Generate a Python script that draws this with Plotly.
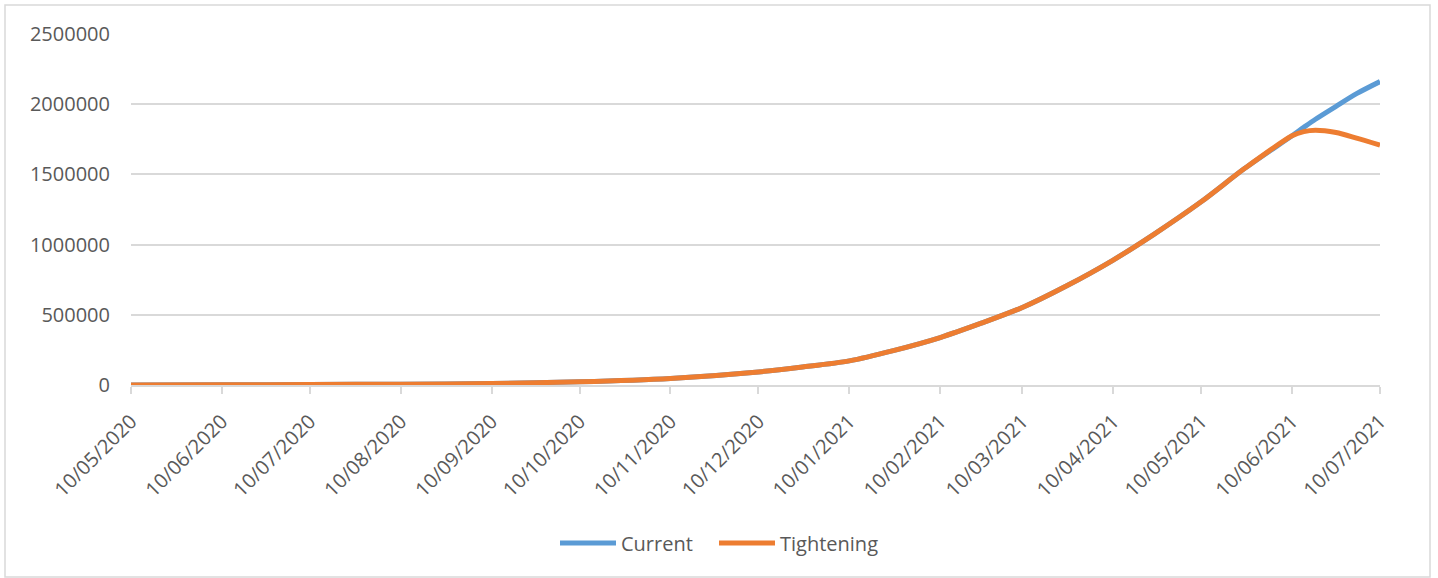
import plotly.graph_objects as go

dates = ["2020-05-10", "2020-06-10", "2020-07-10", "2020-08-10", "2020-09-10",
         "2020-10-10", "2020-11-10", "2020-12-10", "2020-12-25", "2021-01-10",
         "2021-01-25", "2021-02-10", "2021-02-24", "2021-03-10", "2021-03-25",
         "2021-04-10", "2021-04-24", "2021-05-10", "2021-05-25", "2021-06-10",
         "2021-06-14", "2021-06-18", "2021-06-25", "2021-07-02", "2021-07-10"]

current = [500, 1500, 3500, 6000, 11000,
           23000, 47000, 93000, 128000, 172000,
           245000, 338000, 440000, 552000, 705000,
           890000, 1075000, 1305000, 1545000, 1775000,
           1835000, 1893000, 1985000, 2075000, 2161000]

tightening = [500, 1500, 3500, 6000, 11000,
              23000, 47000, 93000, 128000, 172000,
              245000, 338000, 440000, 552000, 705000,
              890000, 1075000, 1305000, 1545000, 1775000,
              1805000, 1815000, 1798000, 1758000, 1708000]

tick_dates = ["2020-05-10", "2020-06-10", "2020-07-10", "2020-08-10", "2020-09-10",
              "2020-10-10", "2020-11-10", "2020-12-10", "2021-01-10", "2021-02-10",
              "2021-03-10", "2021-04-10", "2021-05-10", "2021-06-10", "2021-07-10"]
tick_labels = ["10/05/2020", "10/06/2020", "10/07/2020", "10/08/2020", "10/09/2020",
               "10/10/2020", "10/11/2020", "10/12/2020", "10/01/2021", "10/02/2021",
               "10/03/2021", "10/04/2021", "10/05/2021", "10/06/2021", "10/07/2021"]

y_ticks = [0, 500000, 1000000, 1500000, 2000000, 2500000]

FONT = "Open Sans"
TXT = "#595959"
GRID = "#d9d9d9"

fig = go.Figure()
fig.add_trace(go.Scatter(x=dates, y=current, name="Current", mode="lines", legend="legend",
                         line=dict(color="#5B9BD5", width=5, shape="spline", smoothing=0.8)))
fig.add_trace(go.Scatter(x=dates, y=tightening, name="Tightening", mode="lines", legend="legend2",
                         line=dict(color="#ED7D31", width=5, shape="spline", smoothing=0.8)))

L, R, T, B = 131, 1380, 34, 385
W, H = 1438, 578

def px(x):
    return (x - L) / (R - L)

def py(y):
    return (B - y) / (B - T)

leg_common = dict(orientation="h", y=py(543), xanchor="left", yanchor="middle",
                  font=dict(family=FONT, size=20, color=TXT), itemwidth=56,
                  bgcolor="rgba(0,0,0,0)")

fig.update_layout(
    width=W, height=H,
    margin=dict(l=L, r=W - R, t=T, b=H - B),
    paper_bgcolor="white", plot_bgcolor="white",
    font=dict(family=FONT, size=20, color=TXT),
    showlegend=True,
    legend=dict(x=px(555), **leg_common),
    legend2=dict(x=px(714), **leg_common),
    xaxis=dict(type="date", range=["2020-05-10", "2021-07-10"],
               tickmode="array", tickvals=tick_dates, ticktext=tick_labels,
               tickangle=-45, showgrid=False, showline=True, linecolor=GRID, linewidth=1.5,
               ticks="outside", ticklen=7, tickcolor=GRID, tickwidth=1.5,
               ticklabelstandoff=8,
               tickfont=dict(family=FONT, size=20, color=TXT), zeroline=False),
    yaxis=dict(range=[0, 2500000], tickmode="array", tickvals=y_ticks,
               ticktext=[str(v) for v in y_ticks], showgrid=True, gridcolor=GRID, gridwidth=1.5,
               zeroline=False, showline=False, ticks="", ticklabelstandoff=20,
               tickfont=dict(family=FONT, size=20, color=TXT)),
    shapes=[dict(type="rect", xref="paper", yref="paper",
                 x0=px(5), x1=px(1430), y0=py(5), y1=py(577),
                 line=dict(color=GRID, width=1.5), fillcolor="rgba(0,0,0,0)", layer="below")],
)

fig.write_html("out.html")
